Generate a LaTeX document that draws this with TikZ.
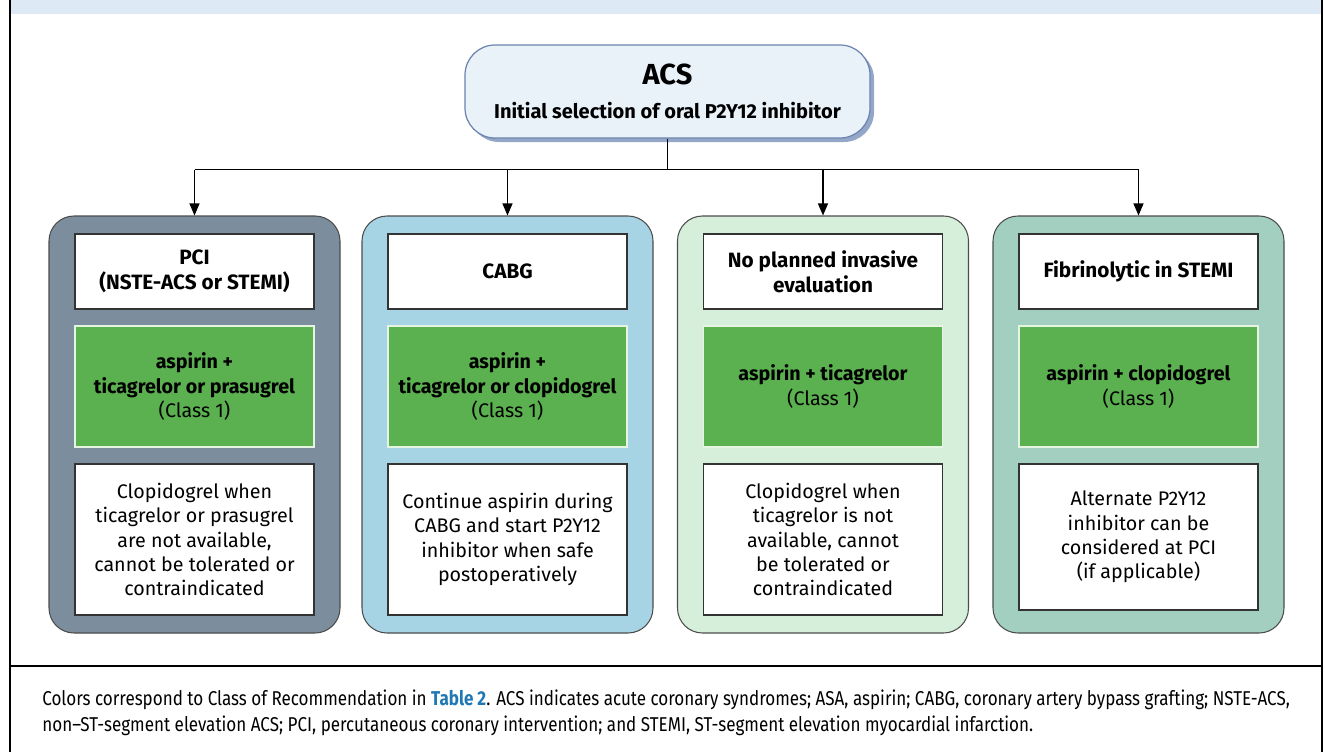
\documentclass[tikz,border=0pt]{standalone}
\usepackage{fontspec}
\setmainfont{Fira Sans}
\newfontfamily\capfont[FakeStretch=0.85]{Fira Sans}
\usepackage{tikz}
\usetikzlibrary{arrows.meta,shadows}

\definecolor{bandblue}{HTML}{DDE9F5}
\definecolor{acsfill}{HTML}{E9F1F9}
\definecolor{acsborder}{HTML}{6B84AE}
\definecolor{acsshadow}{HTML}{95A7C8}
\definecolor{pcigray}{HTML}{7C8E9D}
\definecolor{cabgblue}{HTML}{A6D4E4}
\definecolor{noinvgreen}{HTML}{D6EFDA}
\definecolor{fibteal}{HTML}{A2CFC0}
\definecolor{classgreen}{HTML}{5BB14F}
\definecolor{classborder}{HTML}{E6F4E2}
\definecolor{linkblue}{HTML}{1F77B4}

\begin{document}
\begin{tikzpicture}[
			acsbox/.style={rectangle, rounded corners=0.6cm, draw=acsborder, fill=acsfill, line width=0.7pt, minimum width=8.1cm, minimum height=1.86cm, align=center, font=\fontsize{11.4}{14}\selectfont\bfseries, drop shadow={shadow xshift=0.08cm, shadow yshift=-0.08cm, fill=acsshadow, opacity=1}},
			column/.style={rectangle, rounded corners=0.5cm, draw=black!70, line width=0.6pt, minimum width=5.82cm, minimum height=8.34cm},
			headbox/.style={rectangle, draw=black!80, fill=white, line width=0.8pt, minimum width=4.78cm, minimum height=1.5cm, align=center, font=\fontsize{11.8}{14}\selectfont\bfseries},
			classbox/.style={rectangle, draw=classborder, fill=classgreen, line width=1pt, minimum width=4.78cm, minimum height=2.42cm, align=center, font=\fontsize{11.2}{13.8}\selectfont},
			notebox/.style={rectangle, draw=black!80, fill=white, line width=0.8pt, minimum width=4.78cm, minimum height=3.02cm, align=center, font=\fontsize{11.2}{13.8}\selectfont},
			arrow/.style={-{Triangle[length=0.24cm, width=0.2cm]}, line width=0.6pt}
			]
			\useasboundingbox (0,0) rectangle (26.5,-15.04);
			
			% Frame
			\fill[bandblue] (0.2,0) rectangle (26.44,-0.29);
			\draw[line width=0.8pt] (0.2,0) -- (0.2,-15.04);
			\draw[line width=0.8pt] (26.44,0) -- (26.44,-15.04);
			\draw[line width=0.8pt] (0.2,-13.32) -- (26.44,-13.32);
			
			% ACS
			\node[acsbox] (acs) at (13.35,-1.83) {{\fontsize{16.5}{18}\selectfont ACS}\\[5pt] Initial selection of oral P2Y12 inhibitor};
			
			% Columns
			\node[column, fill=pcigray] (pci) at (3.89,-8.49) {};
			\node[column, fill=cabgblue] (cabg) at (10.15,-8.49) {};
			\node[column, fill=noinvgreen] (noinv) at (16.46,-8.49) {};
			\node[column, fill=fibteal] (fib) at (22.77,-8.49) {};
			
			% PCI
			\node[headbox] (pcihead) at (3.89,-5.43) {PCI\\(NSTE-ACS or STEMI)};
			\node[classbox] (pciclass) at (3.89,-7.73) {\textbf{aspirin +}\\\textbf{ticagrelor or prasugrel}\\(Class 1)};
			\node[notebox] (pcinote) at (3.89,-10.79) {Clopidogrel when\\ticagrelor or prasugrel\\are not available,\\cannot be tolerated or\\contraindicated};
			
			% CABG
			\node[headbox] (cabghead) at (10.15,-5.43) {CABG};
			\node[classbox] (cabgclass) at (10.15,-7.73) {\textbf{aspirin +}\\\textbf{ticagrelor or clopidogrel}\\(Class 1)};
			\node[notebox] (cabgnote) at (10.15,-10.79) {Continue aspirin during\\CABG and start P2Y12\\inhibitor when safe\\postoperatively};
			
			% No invasive evaluation
			\node[headbox] (noinvhead) at (16.46,-5.43) {No planned invasive\\evaluation};
			\node[classbox] (noinvclass) at (16.46,-7.73) {\textbf{aspirin + ticagrelor}\\(Class 1)};
			\node[notebox] (noinvnote) at (16.46,-10.79) {Clopidogrel when\\ticagrelor is not\\available, cannot\\be tolerated or\\contraindicated};
			
			% Fibrinolytic
			\node[headbox] (fibhead) at (22.77,-5.43) {Fibrinolytic in STEMI};
			\node[classbox] (fibclass) at (22.77,-7.73) {\textbf{aspirin + clopidogrel}\\(Class 1)};
			\node[notebox, minimum height=2.92cm] (fibnote) at (22.77,-10.74) {Alternate P2Y12\\inhibitor can be\\considered at PCI\\(if applicable)};
			
			% Connectors
			\path (acs.south) ++(0,-0.62) coordinate (split);
			\draw[line width=0.6pt] (acs.south) -- (split);
			\draw[line width=0.6pt] (pci |- split) -- (fib |- split);
			\draw[arrow] (pci |- split) -- (pci.north);
			\draw[arrow] (cabg |- split) -- (cabg.north);
			\draw[arrow] (noinv |- split) -- (noinv.north);
			\draw[arrow] (fib |- split) -- (fib.north);
			
			% Caption
			\node[anchor=north west, align=left, inner sep=0pt, font=\capfont\fontsize{11.4}{14.8}\selectfont] (caption) at (0.84,-13.8) {Colors correspond to Class of Recommendation in {\bfseries\color{linkblue}Table 2}. ACS indicates acute coronary syndromes; ASA, aspirin; CABG, coronary artery bypass grafting; NSTE-ACS,\\non–ST-segment elevation ACS; PCI, percutaneous coronary intervention; and STEMI, ST-segment elevation myocardial infarction.};
			
		\end{tikzpicture}
\end{document}
